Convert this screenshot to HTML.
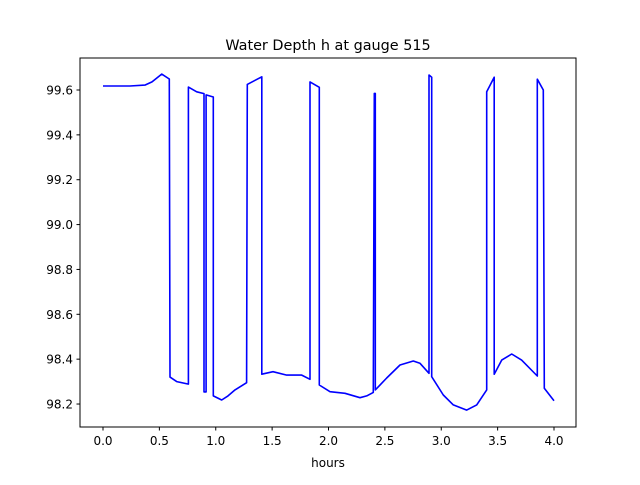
<!DOCTYPE html>
<html><head><meta charset="utf-8"><style>
body{margin:0;background:#fff;font-family:"Liberation Sans","DejaVu Sans",sans-serif;}
svg text{font-family:"DejaVu Sans","Liberation Sans",sans-serif;}
</style></head><body>
<svg id="chart" width="640" height="480" xmlns="http://www.w3.org/2000/svg">
<rect width="640" height="480" fill="#fff"/>
<text x="328" y="50" font-size="14.4" text-anchor="middle">Water Depth h at gauge 515</text>
<text x="328" y="467" font-size="12" text-anchor="middle">hours</text>
<g id="ticks"></g>
<polyline id="line" fill="none" stroke="#0000ff" stroke-width="1.6" stroke-linejoin="round"/>
<rect x="80" y="58" width="496" height="369" fill="none" stroke="#000" stroke-width="1"/>
</svg>
<script>
const hours=[0.0,0.239,0.372,0.435,0.521,0.588,0.594,0.654,0.757,0.757,0.831,0.896,0.896,0.914,0.914,0.978,0.978,1.053,1.109,1.171,1.274,1.280,1.408,1.408,1.508,1.629,1.762,1.836,1.836,1.918,1.918,2.013,2.146,2.279,2.339,2.397,2.406,2.415,2.415,2.516,2.634,2.752,2.811,2.891,2.891,2.915,2.915,3.018,3.107,3.226,3.314,3.403,3.403,3.470,3.470,3.536,3.625,3.713,3.852,3.852,3.905,3.914,4.0];
const depth=[99.618,99.618,99.622,99.636,99.671,99.649,98.320,98.300,98.289,99.613,99.592,99.584,98.254,98.254,99.578,99.569,98.236,98.218,98.236,98.263,98.295,99.625,99.659,98.333,98.344,98.329,98.329,98.310,99.636,99.612,98.285,98.255,98.248,98.228,98.236,98.252,99.585,99.585,98.263,98.316,98.374,98.392,98.382,98.337,99.667,99.657,98.322,98.240,98.196,98.173,98.196,98.263,99.592,99.657,98.333,98.396,98.423,98.396,98.325,99.648,99.600,98.270,98.215];
const xTicks=[0,0.5,1,1.5,2,2.5,3,3.5,4];
const yTicks=[98.2,98.4,98.6,98.8,99.0,99.2,99.4,99.6];
const X=h=>103+h*112.75;
const Y=v=>90+(99.6-v)*224.3;
const NS="http://www.w3.org/2000/svg";
const g=document.getElementById('ticks');
xTicks.forEach(t=>{
 const l=document.createElementNS(NS,'line');
 l.setAttribute('x1',X(t));l.setAttribute('x2',X(t));l.setAttribute('y1',427);l.setAttribute('y2',430.5);l.setAttribute('stroke','#000');
 
 
 g.appendChild(l);
 const tx=document.createElementNS(NS,'text');
 tx.setAttribute('x',X(t));tx.setAttribute('y',445);tx.setAttribute('font-size','12');tx.setAttribute('text-anchor','middle');
 tx.textContent=t.toFixed(1);
 
 
 g.appendChild(tx);
});
yTicks.forEach(t=>{
 const l=document.createElementNS(NS,'line');
 l.setAttribute('x1',76.5);l.setAttribute('x2',80);l.setAttribute('y1',Y(t));l.setAttribute('y2',Y(t));l.setAttribute('stroke','#000');
 
 
 g.appendChild(l);
 const tx=document.createElementNS(NS,'text');
 tx.setAttribute('x',73);tx.setAttribute('y',Y(t)+4.5);tx.setAttribute('font-size','12');tx.setAttribute('text-anchor','end');
 tx.textContent=t.toFixed(1);
 
 
 g.appendChild(tx);
});
document.getElementById('line').setAttribute('points',hours.map((h,i)=>X(h).toFixed(1)+','+Y(depth[i]).toFixed(1)).join(' '));
</script>
</body></html>
